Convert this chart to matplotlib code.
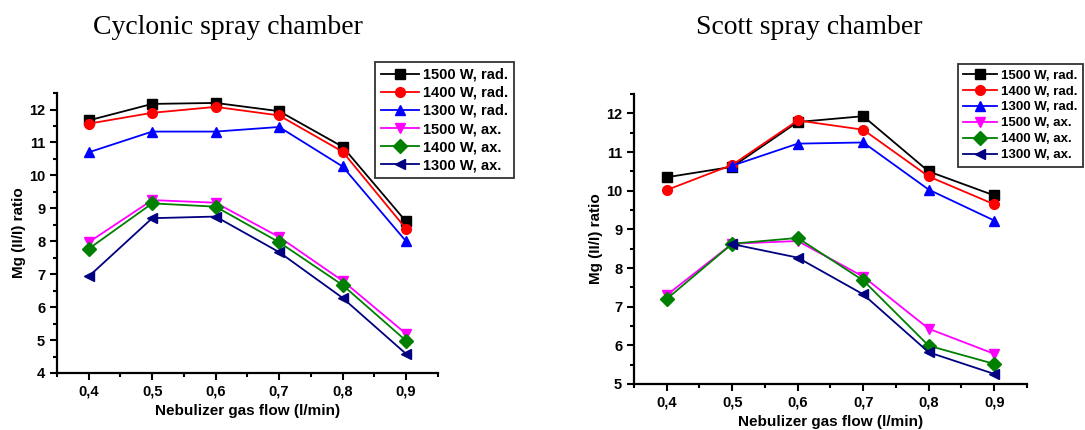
import numpy as np
import matplotlib
matplotlib.use("Agg")
import matplotlib.pyplot as plt
from matplotlib.ticker import MultipleLocator, FuncFormatter

plt.rcParams['font.family'] = ['Liberation Sans', 'DejaVu Sans']
plt.rcParams['font.weight'] = 'bold'

flow = [0.4, 0.5, 0.6, 0.7, 0.8, 0.9]
labels = ["1500 W, rad.", "1400 W, rad.", "1300 W, rad.",
          "1500 W, ax.", "1400 W, ax.", "1300 W, ax."]
colors = ["black", "red", "blue", "magenta", "green", "navy"]
markers = ["s", "o", "^", "v", "D", "<"]

# Cyclonic spray chamber
cyclonic_1500_rad = [11.67, 12.17, 12.2, 11.95, 10.87, 8.6]
cyclonic_1400_rad = [11.57, 11.9, 12.08, 11.82, 10.72, 8.38]
cyclonic_1300_rad = [10.7, 11.33, 11.33, 11.47, 10.27, 8.0]
cyclonic_1500_ax = [7.97, 9.25, 9.17, 8.13, 6.8, 5.19]
cyclonic_1400_ax = [7.77, 9.15, 9.05, 7.97, 6.67, 4.98]
cyclonic_1300_ax = [6.93, 8.7, 8.75, 7.67, 6.28, 4.58]

# Scott spray chamber (no 1300 W data at 0.4)
scott_1500_rad = [10.35, 10.62, 11.78, 11.93, 10.5, 9.88]
scott_1400_rad = [10.02, 10.67, 11.82, 11.58, 10.37, 9.65]
scott_1300_rad = [np.nan, 10.65, 11.22, 11.25, 10.03, 9.23]
scott_1500_ax = [7.3, 8.63, 8.7, 7.78, 6.43, 5.78]
scott_1400_ax = [7.2, 8.63, 8.78, 7.68, 5.99, 5.52]
scott_1300_ax = [np.nan, 8.62, 8.27, 7.32, 5.82, 5.26]

cyclonic = [cyclonic_1500_rad, cyclonic_1400_rad, cyclonic_1300_rad,
            cyclonic_1500_ax, cyclonic_1400_ax, cyclonic_1300_ax]
scott = [scott_1500_rad, scott_1400_rad, scott_1300_rad,
         scott_1500_ax, scott_1400_ax, scott_1300_ax]


def comma(x, pos):
    return ("%.1f" % x).replace(".", ",")


def draw(ax, series, ylim, title, title_x, legend_loc, legend_anchor, legend_size):
    for vals, lab, c, m in zip(series, labels, colors, markers):
        ax.plot(flow, vals, color=c, marker=m, markersize=7, lw=1.3, label=lab)
    ax.set_xlim(0.35, 0.95)
    ax.set_ylim(*ylim)
    ax.xaxis.set_major_locator(MultipleLocator(0.1))
    ax.xaxis.set_minor_locator(MultipleLocator(0.05))
    ax.yaxis.set_major_locator(MultipleLocator(1))
    ax.yaxis.set_minor_locator(MultipleLocator(0.5))
    ax.xaxis.set_major_formatter(FuncFormatter(comma))
    for s in ["top", "right"]:
        ax.spines[s].set_visible(False)
    for s in ["left", "bottom"]:
        ax.spines[s].set_linewidth(1.6)
    ax.tick_params(which="major", direction="out", length=5, width=1.5, labelsize=10.5)
    ax.tick_params(which="minor", direction="out", length=3, width=1.5)
    for t in ax.get_xticklabels() + ax.get_yticklabels():
        t.set_fontweight("bold")
    ax.set_xlabel("Nebulizer gas flow (l/min)", fontsize=11, fontweight="bold", labelpad=4)
    ax.set_ylabel("Mg (II/I) ratio", fontsize=11, fontweight="bold", labelpad=2)
    fig.text(title_x, 0.935, title, fontsize=20, family=["Liberation Serif", "DejaVu Serif"],
             fontweight="normal", ha="center", va="center")
    leg = ax.legend(loc=legend_loc, bbox_to_anchor=legend_anchor,
                    bbox_transform=fig.transFigure, fontsize=legend_size, frameon=True,
                    fancybox=False, edgecolor="black", handlelength=2.6,
                    handletextpad=0.3, labelspacing=0.28, borderpad=0.4, borderaxespad=0)
    leg.get_frame().set_linewidth(1.3)
    for t in leg.get_texts():
        t.set_fontweight("bold")


fig = plt.figure(figsize=(10.85, 4.3), dpi=100)
ax1 = fig.add_axes([0.0525, 0.1326, 0.351, 0.651])
ax2 = fig.add_axes([0.5843, 0.107, 0.3622, 0.674])

draw(ax1, cyclonic, (4, 12.5), "Cyclonic spray chamber", 0.21,
     "upper left", (0.3456, 0.856), 10.5)
draw(ax2, scott, (5, 12.5), "Scott spray chamber", 0.7456,
     "upper right", (0.998, 0.851), 9.5)

fig.savefig("out.png", dpi=100)
